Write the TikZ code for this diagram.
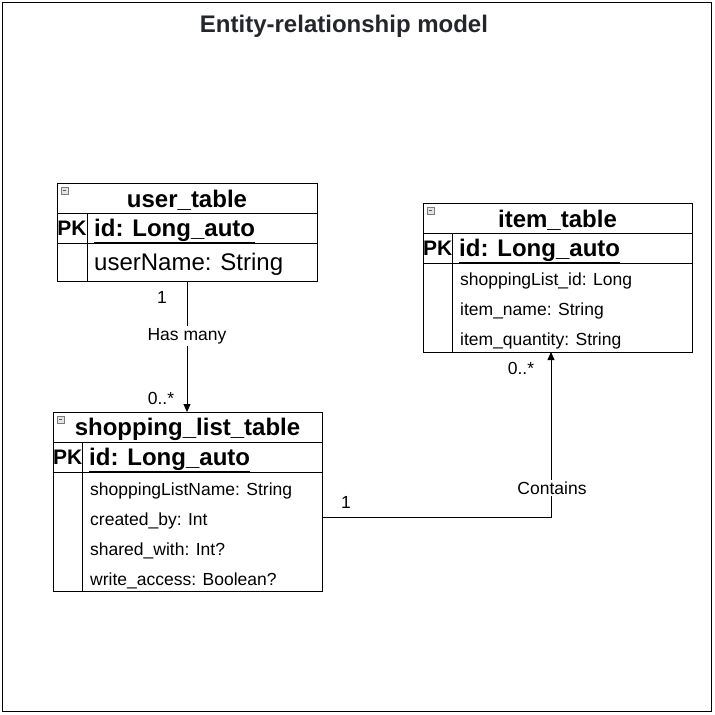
\documentclass[tikz,border=0pt]{standalone}
\usepackage{fontspec}
\setmainfont{Liberation Sans}
\usetikzlibrary{
  arrows.meta,
  positioning,
  calc
}
\definecolor{erLine}{HTML}{000000}
\definecolor{erTitle}{HTML}{25262B}
\definecolor{erIcon}{HTML}{7A7A7A}
\tikzset{
  ercell/.style={
    draw=erLine, anchor=north west, inner sep=0pt, outer sep=0pt,
    minimum height=30pt, line width=0.8pt
  },
  erhead/.style={ercell, font=\fontsize{24}{24}\selectfont\bfseries},
  erkey/.style={ercell, font=\fontsize{21}{21}\selectfont\bfseries},
  erbody/.style={ercell},
  erid/.style={anchor=west, inner sep=0pt, font=\fontsize{24}{24}\selectfont\bfseries},
  erfield/.style={anchor=west, inner sep=0pt, font=\fontsize{17.5}{17.5}\selectfont},
  erbigfield/.style={anchor=west, inner sep=0pt, font=\fontsize{24}{24}\selectfont},
  ercaption/.style={inner sep=0pt, font=\fontsize{24}{24}\selectfont\bfseries},
  ericon/.style={
    draw=erIcon, fill=erIcon!20, minimum size=6.5pt, inner sep=0pt,
    anchor=north west, line width=0.5pt,
    path picture={\draw[erIcon!70!black, line width=0.8pt]
      ([xshift=1.4pt]path picture bounding box.west) --
      ([xshift=-1.4pt]path picture bounding box.east);}
  },
  erarrow/.style={-{Triangle[length=8pt,width=7pt]}, line width=0.8pt, erLine},
  erlabel/.style={font=\fontsize{17.5}{17.5}\selectfont, inner sep=1pt},
  ertag/.style={erlabel, fill=white, inner sep=2pt},
  erframe/.style={draw=erLine, line width=1.5pt, inner sep=0pt}
}

\begin{document}
\begin{tikzpicture}[x=1pt, y=-1pt]
  \useasboundingbox (0,0) rectangle (715,715);
  \node[erframe, minimum width=709pt, minimum height=709pt] (frame) at (357,357) {};
  \node[font=\fontsize{24}{24}\selectfont\bfseries, text=erTitle] (title) at (344,26) {Entity-relationship model};

  % user table
  \node[ercell, minimum width=260pt] (user) at (57,183) {};
  \node[ercaption] (usercap) at ($(user.center)+(0,2)$) {user\_table};
  \node[ericon] (usericon) at ($(user.north west)+(4,4)$) {};
  \node[erkey, minimum width=30pt] (userpk) at (user.south west) {PK};
  \node[ercell, minimum width=230pt] (userrow) at ($(user.south west)+(30,0)$) {};
  \node[erid] (userid) at ($(userrow.west)+(7,3)$) {\underline{id: Long\_auto}};
  \node[erbody, minimum width=260pt, minimum height=38pt] (userbody) at ($(user.south west)+(0,30)$) {};
  \draw[line width=0.8pt] (userrow.south west) -- (userrow.south west |- userbody.south);
  \node[erbigfield] (username) at ($(userrow.south west)+(7,21)$) {userName: String};

  % item table
  \node[ercell, minimum width=269pt] (item) at (423,203) {};
  \node[ercaption] (itemcap) at ($(item.center)+(0,2)$) {item\_table};
  \node[ericon] (itemicon) at ($(item.north west)+(4,4)$) {};
  \node[erkey, minimum width=29pt] (itempk) at (item.south west) {PK};
  \node[ercell, minimum width=240pt] (itemrow) at ($(item.south west)+(29,0)$) {};
  \node[erid] (itemid) at ($(itemrow.west)+(7,3)$) {\underline{id: Long\_auto}};
  \node[erbody, minimum width=269pt, minimum height=89pt] (itembody) at ($(item.south west)+(0,30)$) {};
  \draw[line width=0.8pt] (itemrow.south west) -- (itemrow.south west |- itembody.south);
  \node[erfield] (itemlist) at ($(itemrow.south west)+(8,18)$) {shoppingList\_id: Long};
  \node[erfield] (itemname) at ($(itemlist.west)+(0,30)$) {item\_name: String};
  \node[erfield] (itemqty) at ($(itemname.west)+(0,30)$) {item\_quantity: String};

  % shopping list table
  \node[ercell, minimum width=269pt] (shop) at (53,412) {};
  \node[ercaption] (shopcap) at ($(shop.center)+(0,2)$) {shopping\_list\_table};
  \node[ericon] (shopicon) at ($(shop.north west)+(4,4)$) {};
  \node[erkey, minimum width=29pt] (shoppk) at (shop.south west) {PK};
  \node[ercell, minimum width=240pt] (shoprow) at ($(shop.south west)+(29,0)$) {};
  \node[erid] (shopid) at ($(shoprow.west)+(7,3)$) {\underline{id: Long\_auto}};
  \node[erbody, minimum width=269pt, minimum height=119pt] (shopbody) at ($(shop.south west)+(0,30)$) {};
  \draw[line width=0.8pt] (shoprow.south west) -- (shoprow.south west |- shopbody.south);
  \node[erfield] (shopname) at ($(shoprow.south west)+(8,19)$) {shoppingListName: String};
  \node[erfield] (shopcreated) at ($(shopname.west)+(0,30)$) {created\_by: Int};
  \node[erfield] (shopshared) at ($(shopcreated.west)+(0,30)$) {shared\_with: Int?};
  \node[erfield] (shopwrite) at ($(shopshared.west)+(0,30)$) {write\_access: Boolean?};

  % relations
  \draw[erarrow] (userbody.south) -- (userbody.south |- shop.north)
    node[pos=0.42, ertag] (hasmany) {Has many};
  \node[erlabel] (hasone) at (162,297) {1};
  \node[erlabel] (hasmulti) at (161,398) {0..*};

  \coordinate (bend) at (551,517);
  \draw[erarrow] (shopbody.east |- bend) -- (bend) -- (bend |- itembody.south);
  \node[ertag] (contains) at (552,488) {Contains};
  \node[erlabel] (containsone) at (346,502) {1};
  \node[erlabel] (containsmulti) at (521,368) {0..*};
\end{tikzpicture}
\end{document}
